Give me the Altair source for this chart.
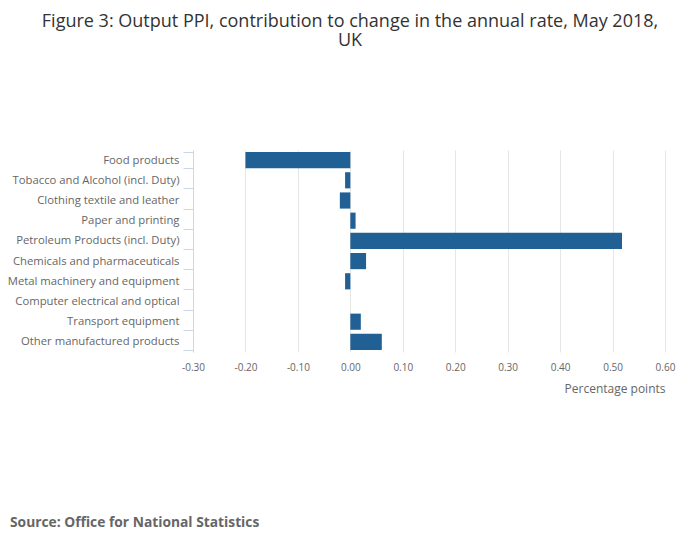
import altair as alt
import pandas as pd

categories = [
    "Food products",
    "Tobacco and Alcohol (incl. Duty)",
    "Clothing textile and leather",
    "Paper and printing",
    "Petroleum Products (incl. Duty)",
    "Chemicals and pharmaceuticals",
    "Metal machinery and equipment",
    "Computer electrical and optical",
    "Transport equipment",
    "Other manufactured products",
]
values = [-0.20, -0.01, -0.02, 0.01, 0.518, 0.03, -0.01, 0.0, 0.02, 0.06]
x_ticks = [-0.3, -0.2, -0.1, 0.0, 0.1, 0.2, 0.3, 0.4, 0.5, 0.6]
title_line1 = "Figure 3: Output PPI, contribution to change in the annual rate, May 2018,"
title_line2 = "UK"
source_text = "Source: Office for National Statistics"

df = pd.DataFrame({"category": categories, "value": values})

FONT = "Open Sans"

bars = alt.Chart(df).mark_bar(color="#206095").encode(
    y=alt.Y(
        "category:N",
        sort=categories,
        scale=alt.Scale(paddingInner=0.2, paddingOuter=0.1),
        axis=alt.Axis(
            title=None,
            tickBand="extent",
            tickSize=10,
            tickColor="#ccd6eb",
            domainColor="#ccd6eb",
            labelColor="#666666",
            labelFontSize=11.3,
            labelPadding=4,
            grid=False,
        ),
    ),
    x=alt.X(
        "value:Q",
        scale=alt.Scale(domain=[-0.3, 0.6], nice=False),
        axis=alt.Axis(
            values=x_ticks,
            format=".2f",
            labelExpr="replace(datum.label, '\u2212', '-')",
            labelFlush=False,
            labelOverlap=False,
            title="Percentage points",
            titleAnchor="end",
            titleFontWeight="normal",
            titleFontSize=12,
            titleColor="#666666",
            titlePadding=11,
            labelColor="#666666",
            labelFontSize=10,
            labelPadding=10,
            ticks=False,
            domain=False,
            grid=True,
            gridColor="#e6e6e6",
        ),
    ),
)

source = alt.Chart(pd.DataFrame({"t": [source_text]})).mark_text(
    font=FONT, fontSize=13.8, fontWeight="bold", color="#666666", align="left", baseline="alphabetic"
).encode(
    x=alt.value(10 - 193),
    y=alt.value(527 - 150),
    text="t:N",
)

chart = alt.layer(bars, source).properties(
    width=472,
    height=202,
    autosize=alt.AutoSizeParams(type="none"),
    padding={"left": 185, "top": 142, "right": 27, "bottom": 180},
    title=alt.TitleParams(
        text=title_line1,
        subtitle=title_line2,
        font=FONT,
        fontSize=18,
        fontWeight="normal",
        color="#333333",
        subtitleFont=FONT,
        subtitleFontSize=18,
        subtitleFontWeight="normal",
        subtitleColor="#333333",
        subtitlePadding=1,
        anchor="middle",
        dx=-79,
        offset=94,
    ),
).configure(font=FONT).configure_view(stroke=None)

chart.save("out.html", embed_options={"renderer": "svg", "actions": False})
